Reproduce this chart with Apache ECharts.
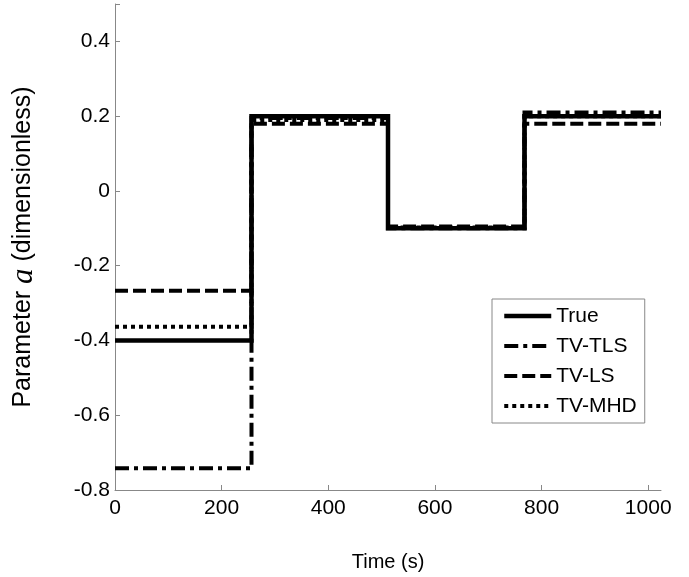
<!DOCTYPE html>
<html>
<head>
<meta charset="utf-8">
<script src="https://cdn.jsdelivr.net/npm/echarts@6/dist/echarts.min.js"></script>
<style>
  html, body { margin: 0; padding: 0; background: #fff; }
  #chart { width: 689px; height: 577px; }
</style>
</head>
<body>
<div id="chart"></div>
<script>
// segment boundaries (s) and the value held on each segment
var breaks = [0, 256, 512, 768, 1024];
var trueVals = [-0.40, 0.20, -0.10, 0.20];
var tlsVals = [-0.742, 0.195, -0.10, 0.21];
var lsVals = [-0.267, 0.18, -0.095, 0.18];
var mhdVals = [-0.363, 0.19, -0.098, 0.20];
var seriesNames = ['True', 'TV-TLS', 'TV-LS', 'TV-MHD'];

function stepData(vals) {
  var out = [];
  for (var i = 0; i < vals.length; i++) out.push([breaks[i], vals[i]]);
  out.push([breaks[breaks.length - 1], vals[vals.length - 1]]);
  return out;
}

var lineTypes = [
  { width: 4.5, type: 'solid' },
  { width: 4, type: [14, 5, 4, 5] },
  { width: 4, type: [13, 5] },
  { width: 4, type: [4, 4] }
];
var allVals = [trueVals, tlsVals, lsVals, mhdVals];

var myChart = echarts.init(document.getElementById('chart'));
var font = 'Liberation Sans, Arial, sans-serif';

var option = {
  animation: false,
  backgroundColor: '#fff',
  grid: { left: 103, right: 28, top: 4, bottom: 77 },
  legend: {
    orient: 'vertical',
    left: 492,
    top: 299,
    padding: [6, 8, 6, 10],
    itemGap: 8,
    itemWidth: 47,
    itemHeight: 14,
    backgroundColor: '#fff',
    borderColor: '#888',
    borderWidth: 1,
    borderRadius: 0,
    itemStyle: { opacity: 0 },
    textStyle: { color: '#000', fontSize: 21, fontFamily: font, lineHeight: 22 },
    data: seriesNames.map(function (name, i) {
      return { name: name, lineStyle: { width: lineTypes[i].width, type: lineTypes[i].type, color: '#000' } };
    })
  },
  xAxis: {
    type: 'value',
    min: 0,
    max: 1024,
    interval: 200,
    name: 'Time (s)',
    nameLocation: 'middle',
    nameGap: 62,
    nameTextStyle: { color: '#000', fontSize: 20, fontFamily: font },
    axisLine: { show: true, onZero: false, lineStyle: { color: '#888', width: 1 } },
    axisTick: { show: true, inside: true, length: 5, lineStyle: { color: '#888' } },
    axisLabel: {
      color: '#000', fontSize: 21, fontFamily: font, margin: 8,
      formatter: function (v) { return String(v); }
    },
    splitLine: { show: false }
  },
  yAxis: {
    type: 'value',
    min: -0.8,
    max: 0.5,
    interval: 0.2,
    name: 'Parameter {i|a} (dimensionless)',
    nameLocation: 'middle',
    nameGap: 76,
    nameTextStyle: {
      color: '#000', fontSize: 25, fontFamily: font,
      rich: {
        i: { fontFamily: 'Liberation Serif, Times New Roman, serif', fontStyle: 'italic', fontSize: 31, color: '#000' }
      }
    },
    axisLine: { show: true, onZero: false, lineStyle: { color: '#888', width: 1 } },
    axisTick: { show: true, inside: true, length: 5, lineStyle: { color: '#888' } },
    axisLabel: {
      color: '#000', fontSize: 21, fontFamily: font, margin: 5,
      formatter: function (v) {
        if (Math.abs(v) < 1e-9) return '0';
        if (v > 0.45) return '';
        return String(Math.round(v * 10) / 10);
      }
    },
    splitLine: { show: false }
  },
  series: seriesNames.map(function (name, i) {
    return {
      name: name,
      type: 'line',
      step: 'end',
      symbol: 'none',
      data: stepData(allVals[i]),
      z: 10 - i,
      lineStyle: { color: '#000', width: lineTypes[i].width, type: lineTypes[i].type, cap: 'butt', join: 'miter' },
      itemStyle: { color: '#000' }
    };
  })
};

myChart.setOption(option);
</script>
</body>
</html>
